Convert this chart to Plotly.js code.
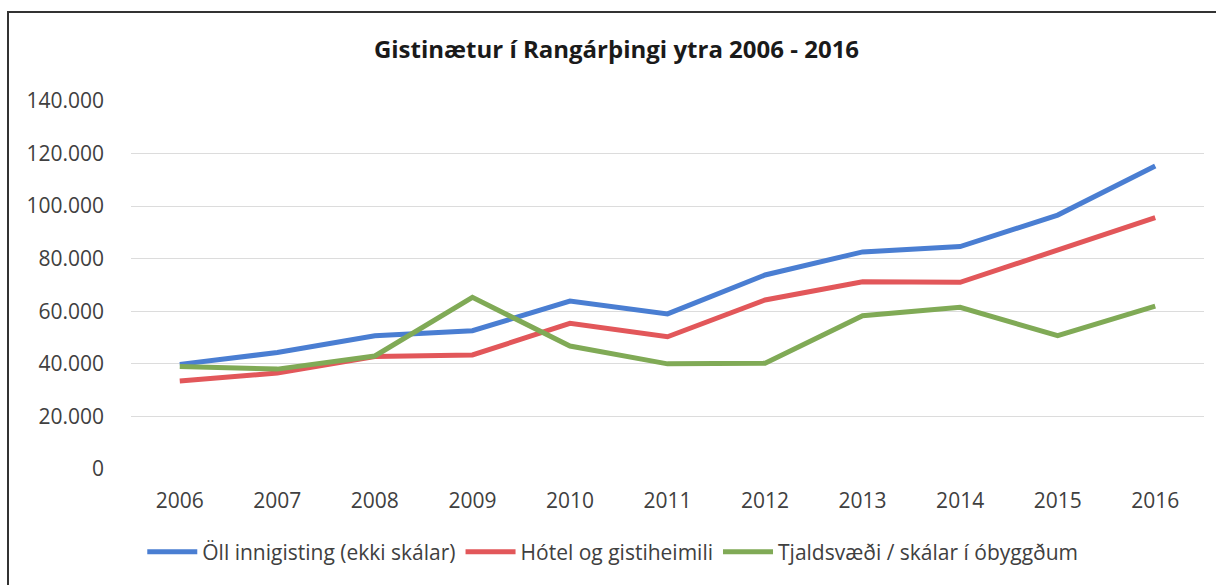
<!DOCTYPE html>
<html>
<head>
<meta charset="utf-8">
<script src="https://cdn.plot.ly/plotly-3.0.1.min.js"></script>
<style>
  html, body { margin: 0; padding: 0; background: #fff; }
  #chart { width: 1216px; height: 585px; }
  #frame {
    position: absolute; left: 7px; top: 11px; width: 1220px; height: 590px;
    border: 2px solid #333; pointer-events: none;
  }
</style>
</head>
<body>
<div id="chart"></div>
<div id="frame"></div>
<script>
const YEARS = ['2006', '2007', '2008', '2009', '2010', '2011', '2012', '2013', '2014', '2015', '2016'];

const allIndoor = [39800, 44300, 50700, 52600, 63900, 59000, 73800, 82600, 84600, 96600, 115300];
const hotels = [33500, 36500, 42800, 43400, 55400, 50300, 64300, 71200, 71000, 83300, 95600];
const campsites = [39000, 38000, 43000, 65300, 46800, 40000, 40200, 58300, 61500, 50700, 62000];

const SERIES_NAMES = [
  'Öll innigisting (ekki skálar)',
  'Hótel og gistiheimili',
  'Tjaldsvæði / skálar í óbyggðum',
];
const COLORS = ['#4a7ed2', '#e2575a', '#80aa56'];

const Y_TICKS = [0, 20000, 40000, 60000, 80000, 100000, 120000, 140000];
const Y_LABELS = ['0', '20.000', '40.000', '60.000', '80.000', '100.000', '120.000', '140.000'];

const data = [allIndoor, hotels, campsites].map((vals, i) => ({
  type: 'scatter',
  mode: 'lines',
  x: YEARS,
  y: vals,
  name: SERIES_NAMES[i],
  line: { color: COLORS[i], width: 5 },
}));

const FONT = 'Open Sans, sans-serif';

const layout = {
  width: 1216,
  height: 585,
  paper_bgcolor: '#fff',
  plot_bgcolor: '#fff',
  margin: { l: 131, r: 12, t: 101, b: 116 },
  font: { family: FONT, color: '#404040', size: 21 },
  title: {
    text: '<b>Gistinætur í Rangárþingi ytra 2006 - 2016</b>',
    font: { family: FONT, size: 24, color: '#1a1a1a' },
    x: 0.507, xref: 'container', xanchor: 'center',
    y: 0.915, yref: 'container', yanchor: 'middle',
  },
  xaxis: {
    type: 'category',
    range: [-0.5, 10.5],
    showgrid: false,
    zeroline: false,
    showline: false,
    ticks: '',
    ticklabelstandoff: 17,
    tickfont: { family: FONT, size: 21, color: '#404040' },
  },
  yaxis: {
    range: [0, 140000],
    tickvals: Y_TICKS,
    ticktext: Y_LABELS,
    showgrid: true,
    gridcolor: '#dcdcdc',
    gridwidth: 1,
    zeroline: false,
    showline: false,
    ticks: '',
    ticklabelstandoff: 26,
    tickfont: { family: FONT, size: 21, color: '#404040' },
  },
  showlegend: true,
  legend: {
    orientation: 'h',
    x: 0.449, xanchor: 'center',
    y: -0.226, yanchor: 'middle',
    font: { family: FONT, size: 21, color: '#404040' },
    itemwidth: 50,
  },
};

Plotly.newPlot('chart', data, layout, { displayModeBar: false, staticPlot: true });
</script>
</body>
</html>
